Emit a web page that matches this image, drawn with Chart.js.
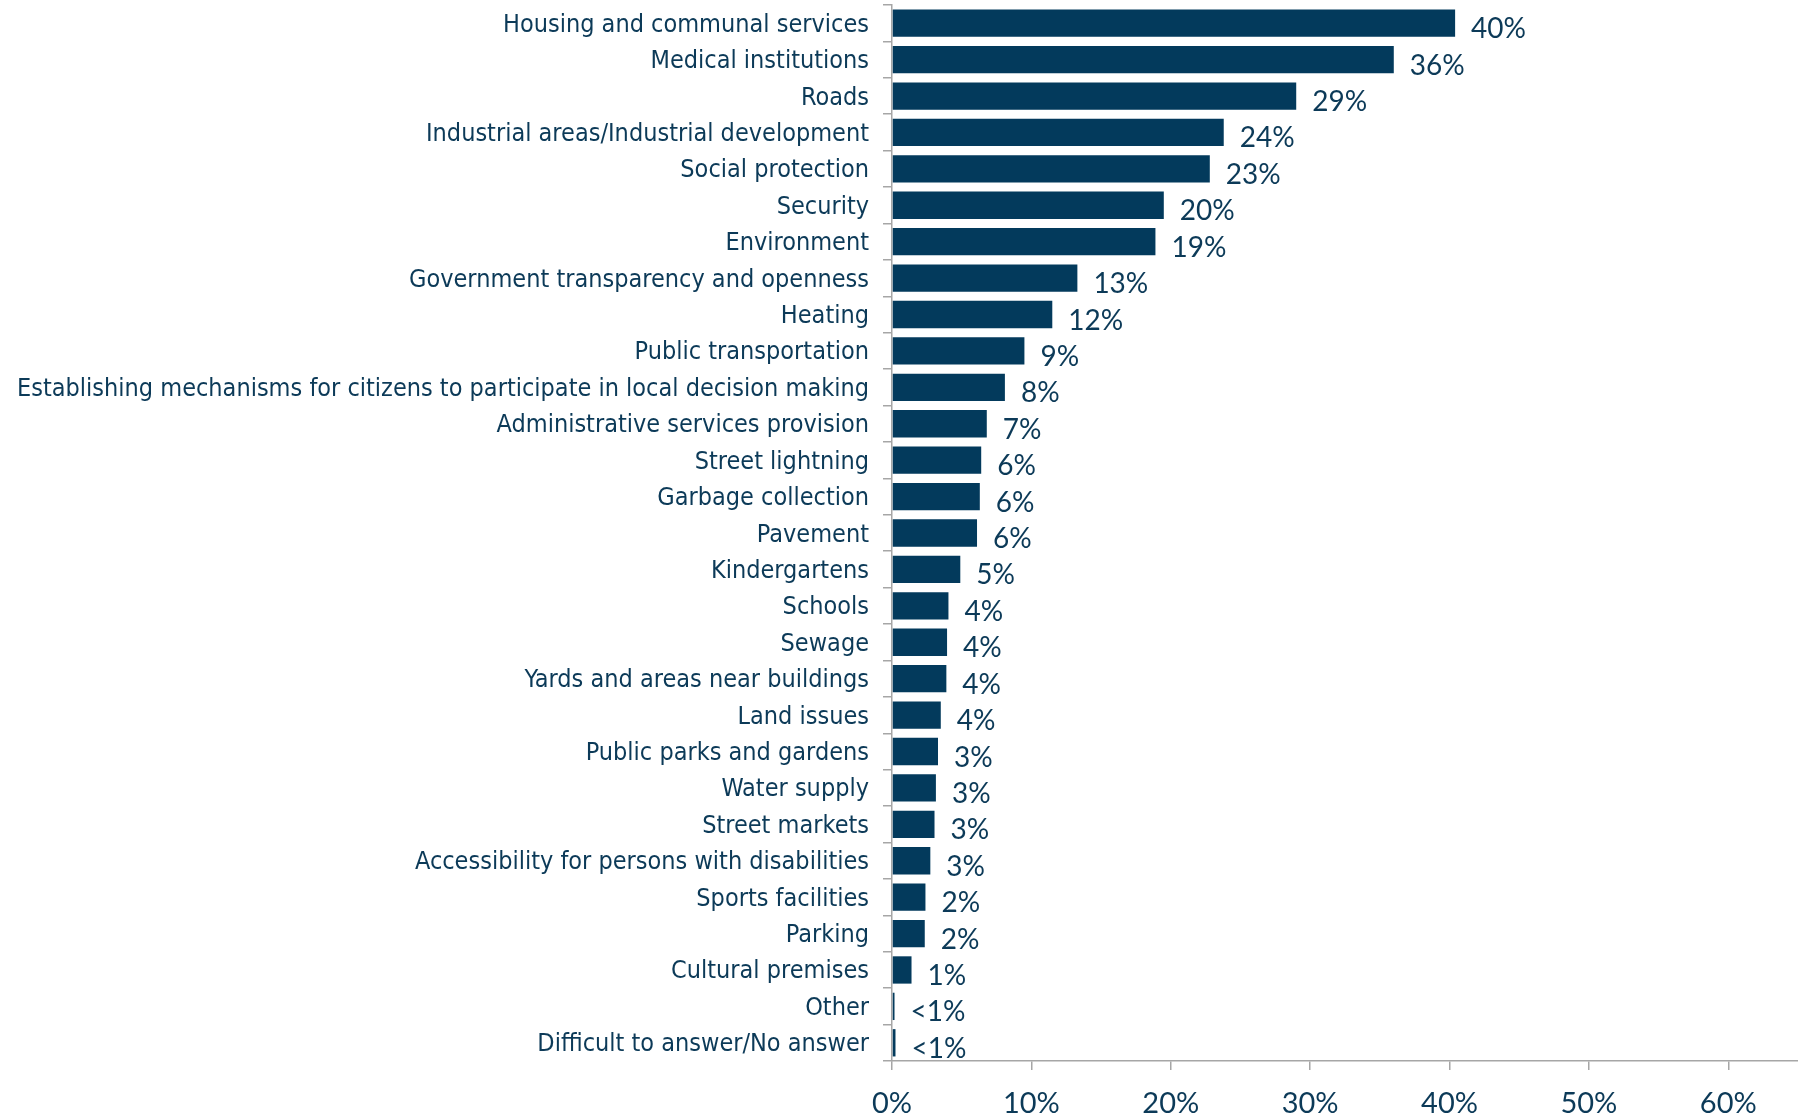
<!DOCTYPE html>
<html>
<head>
<meta charset="utf-8">
<script src="https://cdn.jsdelivr.net/npm/chart.js@4/dist/chart.umd.min.js"></script>
<style>
  html, body { margin: 0; padding: 0; background: #ffffff; }
  #wrap { width: 1798px; height: 1115px; position: relative; }
</style>
</head>
<body>
<div id="wrap"><canvas id="c" width="1798" height="1115"></canvas></div>
<script>
const categories = [
  "Housing and communal services",
  "Medical institutions",
  "Roads",
  "Industrial areas/Industrial development",
  "Social protection",
  "Security",
  "Environment",
  "Government transparency and openness",
  "Heating",
  "Public transportation",
  "Establishing mechanisms for citizens to participate in local decision making",
  "Administrative services provision",
  "Street lightning",
  "Garbage collection",
  "Pavement",
  "Kindergartens",
  "Schools",
  "Sewage",
  "Yards and areas near buildings",
  "Land issues",
  "Public parks and gardens",
  "Water supply",
  "Street markets",
  "Accessibility for persons with disabilities",
  "Sports facilities",
  "Parking",
  "Cultural premises",
  "Other",
  "Difficult to answer/No answer"
];
const values = [40.4, 36.0, 29.0, 23.8, 22.8, 19.5, 18.9, 13.3, 11.5, 9.5, 8.1, 6.8, 6.4, 6.3, 6.1, 4.9, 4.05, 3.95, 3.9, 3.5, 3.3, 3.15, 3.05, 2.75, 2.4, 2.35, 1.4, 0.18, 0.25];
const valueLabels = ["40%", "36%", "29%", "24%", "23%", "20%", "19%", "13%", "12%", "9%", "8%", "7%", "6%", "6%", "6%", "5%", "4%", "4%", "4%", "4%", "3%", "3%", "3%", "3%", "2%", "2%", "1%", "<1%", "<1%"];
const xTickValues = [0, 10, 20, 30, 40, 50, 60];

const NAVY = '#033a5c';
const TEXT = '#0c3a58';
const AXIS = '#a6a6a6';
const NUMFONT = 'Lato, "Liberation Sans", sans-serif';
const LABFONT = '"DejaVu Sans Condensed", "DejaVu Sans", sans-serif';

const valueLabelPlugin = {
  id: 'valueLabels',
  afterDatasetsDraw(chart) {
    const ctx = chart.ctx;
    const meta = chart.getDatasetMeta(0);
    ctx.save();
    ctx.font = '28px ' + NUMFONT;
    ctx.fillStyle = TEXT;
    ctx.textAlign = 'left';
    ctx.textBaseline = 'middle';
    meta.data.forEach((bar, i) => {
      ctx.fillText(valueLabels[i], bar.x + 16, bar.y + 6);
    });
    ctx.restore();
  }
};

new Chart(document.getElementById('c'), {
  type: 'bar',
  data: {
    labels: categories,
    datasets: [{
      data: values,
      backgroundColor: NAVY,
      borderWidth: 0,
      barPercentage: 0.75,
      categoryPercentage: 1.0
    }]
  },
  options: {
    indexAxis: 'y',
    responsive: false,
    animation: false,
    devicePixelRatio: 1,
    layout: { padding: { top: 5, right: 0, bottom: 0, left: 0 } },
    plugins: { legend: { display: false }, tooltip: { enabled: false } },
    scales: {
      x: {
        min: 0,
        max: 65,
        afterFit(scale) { scale.height = 54; scale.paddingLeft = 0; scale.paddingRight = 0; },
        afterBuildTicks(scale) { scale.ticks = xTickValues.map(v => ({ value: v })); },
        ticks: {
          callback: v => v + '%',
          color: TEXT,
          font: { family: NUMFONT, size: 29 },
          padding: 16,
          maxRotation: 0
        },
        grid: { display: true, drawOnChartArea: false, drawTicks: true, tickLength: 9, color: AXIS, lineWidth: 1.5 },
        border: { display: true, color: AXIS, width: 1.5 }
      },
      y: {
        afterFit(scale) { scale.width = 892; scale.paddingTop = 0; scale.paddingBottom = 0; },
        ticks: {
          color: TEXT,
          font: { family: LABFONT, size: 25 },
          padding: 14,
          labelOffset: 2,
          autoSkip: false
        },
        grid: { display: true, drawOnChartArea: false, drawTicks: true, tickLength: 9, color: AXIS, lineWidth: 1.5, offset: true },
        border: { display: true, color: AXIS, width: 1.5 }
      }
    }
  },
  plugins: [valueLabelPlugin]
});
</script>
</body>
</html>
